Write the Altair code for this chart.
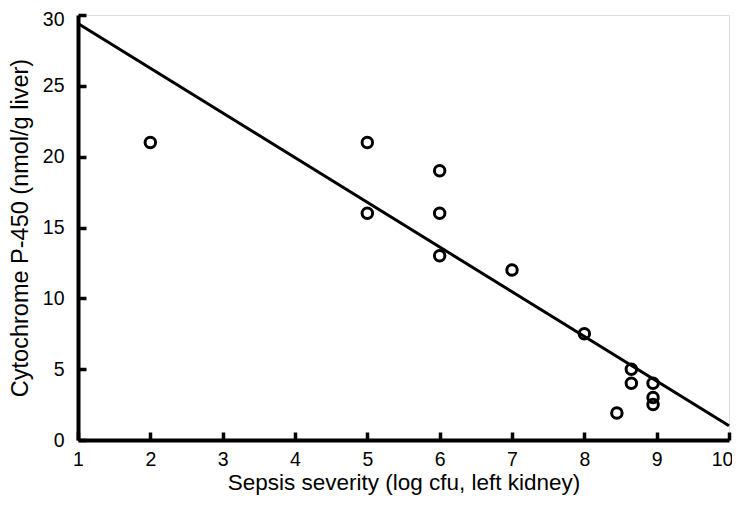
import altair as alt
import pandas as pd

sepsis = [2, 5, 5, 6, 6, 6, 7, 8, 8.65, 8.65, 8.95, 8.95, 8.95, 8.45]
p450 = [21, 21, 16, 19, 16, 13, 12, 7.5, 5, 4, 4, 3, 2.5, 1.9]

fit_x = [1, 10]
fit_y = [29.4, 1.0]

x_ticks = [1, 2, 3, 4, 5, 6, 7, 8, 9, 10]
y_ticks = [0, 5, 10, 15, 20, 25, 30]

W, H = 651, 425

pts = pd.DataFrame({"x": sepsis, "y": p450})
fit = pd.DataFrame({"x": fit_x, "y": fit_y})
xt = pd.DataFrame({"x": x_ticks, "y": [0] * len(x_ticks)})
yt = pd.DataFrame({"x": [1] * len(y_ticks), "y": y_ticks})

FONT = "Liberation Sans"
xs = alt.Scale(domain=[1, 10], nice=False)
ys = alt.Scale(domain=[0, 30], nice=False)

xaxis = alt.Axis(values=x_ticks, format="d", title="Sepsis severity (log cfu, left kidney)",
                 ticks=False, grid=False, domainWidth=4, domainColor="black",
                 labelFont=FONT, labelFontSize=19.5, labelColor="black", labelPadding=10,
                 labelFlush=False, labelOverlap=False,
                 labelOffset={"condition": {"test": "datum.value == 10", "value": -7},
                              "value": 0},
                 titleFont=FONT, titleFontSize=22.5, titleFontWeight="normal",
                 titleColor="black", titlePadding=3)
yaxis = alt.Axis(values=y_ticks, format="d", title="Cytochrome P-450 (nmol/g liver)",
                 ticks=False, grid=False, domainWidth=4, domainColor="black",
                 labelFont=FONT, labelFontSize=19.5, labelColor="black", labelPadding=14,
                 labelFlush=False, labelOverlap=False,
                 labelOffset={"condition": {"test": "datum.value == 30", "value": 4},
                              "value": 0},
                 titleFont=FONT, titleFontSize=23.5, titleFontWeight="normal",
                 titleColor="black", titlePadding=10)

# inward-pointing tick marks: extra axes placed on the opposite edge and pulled in
xtick_axis = alt.Axis(orient="top", offset=-H, values=x_ticks, labels=False, domain=False,
                      grid=False, title=None, ticks=True, tickSize=8, tickWidth=3.5,
                      tickColor="black")
ytick_axis = alt.Axis(orient="right", offset=-W, values=y_ticks, labels=False, domain=False,
                      grid=False, title=None, ticks=True, tickSize=8, tickWidth=3.5,
                      tickColor="black")

line = alt.Chart(fit).mark_line(color="black", strokeWidth=3, clip=False).encode(
    x=alt.X("x:Q", scale=xs, axis=xaxis),
    y=alt.Y("y:Q", scale=ys, axis=yaxis),
)
points = alt.Chart(pts).mark_point(shape="circle", filled=False, color="black",
                                    strokeWidth=3, size=110, opacity=1).encode(
    x=alt.X("x:Q", scale=xs, axis=None), y=alt.Y("y:Q", scale=ys, axis=None))
xtick = alt.Chart(xt).mark_point(opacity=0).encode(
    x=alt.X("x:Q", scale=xs, axis=xtick_axis), y=alt.Y("y:Q", scale=ys, axis=None))
ytick = alt.Chart(yt).mark_point(opacity=0).encode(
    x=alt.X("x:Q", scale=xs, axis=None), y=alt.Y("y:Q", scale=ys, axis=ytick_axis))

chart = alt.layer(line, points, xtick, ytick).resolve_axis(
    x="independent", y="independent"
).properties(
    width=W, height=H,
    autosize=alt.AutoSizeParams(type="none"),
    padding={"left": 70, "top": 7, "right": 3, "bottom": 57},
).configure_view(stroke=None).configure(background="white")

chart.save("out.html", embed_options={"renderer": "svg", "actions": False})
